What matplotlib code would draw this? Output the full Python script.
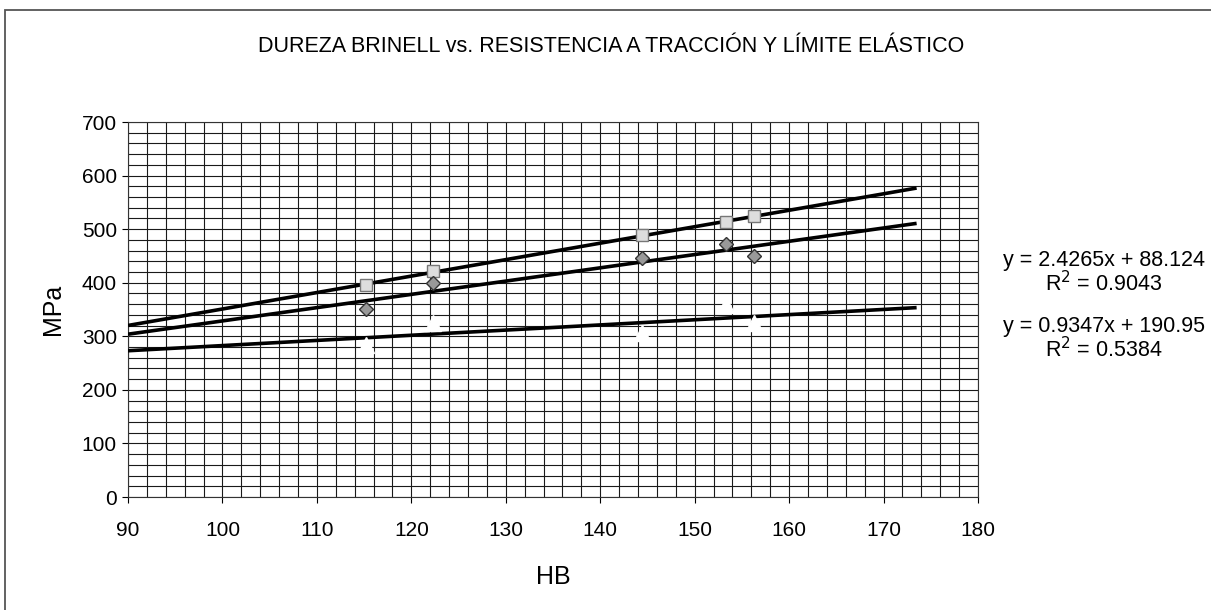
import matplotlib.pyplot as plt
import numpy as np
from matplotlib.patches import Rectangle
from matplotlib.ticker import MultipleLocator

plt.rcParams['font.family'] = ['Liberation Sans', 'DejaVu Sans']

# dureza Brinell de las probetas
hb = np.array([115.2, 122.3, 144.4, 153.3, 156.3])

# resistencia a traccion, limite elastico y tercera serie (MPa)
traccion = np.array([396, 421, 489, 513, 524])
limite = np.array([351, 399, 446, 472, 450])
tercera = np.array([284, 325, 306, 358, 325])

ecuaciones = [
    "y = 2.4265x + 88.124\nR$^2$ = 0.9043",
    "y = 0.9347x + 190.95\nR$^2$ = 0.5384",
]

fig = plt.figure(figsize=(12.11, 6.10), dpi=100)
ax = fig.add_axes([0.1057, 0.1852, 0.7019, 0.6148])

# marco exterior del grafico
fig.patches.append(Rectangle((5 / 1211, -0.1), 1.2, 1 - 10 / 610 + 0.1,
                             transform=fig.transFigure, fill=False,
                             edgecolor='#555555', lw=1.3))

x_fit = np.array([90, 173.5])
for serie in (traccion, limite, tercera):
    m, b = np.polyfit(hb, serie, 1)
    ax.plot(x_fit, m * x_fit + b, color='black', lw=2.6, zorder=3,
            solid_capstyle='butt')

ax.plot(hb, tercera, linestyle='none', marker='^', ms=11, color='white',
        mec='white', zorder=4)
ax.plot(hb, traccion, linestyle='none', marker='s', ms=8, mfc='#dddddd',
        mec='#777777', mew=1, zorder=4)
ax.plot(hb, limite, linestyle='none', marker='D', ms=7, mfc='#999999',
        mec='#333333', mew=1, zorder=4)

ax.set_xlim(90, 180)
ax.set_ylim(0, 700)
ax.xaxis.set_major_locator(MultipleLocator(10))
ax.xaxis.set_minor_locator(MultipleLocator(2))
ax.yaxis.set_major_locator(MultipleLocator(100))
ax.yaxis.set_minor_locator(MultipleLocator(20))
ax.grid(which='both', color='#1a1a1a', lw=0.8)
ax.set_axisbelow(True)
ax.tick_params(which='major', direction='out', length=4, width=0.8,
               labelsize=15, pad=4)
ax.tick_params(axis='x', pad=13)
ax.tick_params(which='minor', length=0)
for s in ax.spines.values():
    s.set_color('#333333')
    s.set_linewidth(0.8)

ax.set_xlabel("HB", fontsize=18, labelpad=18)
ax.set_ylabel("MPa", fontsize=18, labelpad=12)

fig.text(0.5046, 0.923, "DUREZA BRINELL vs. RESISTENCIA A TRACCIÓN Y LÍMITE ELÁSTICO",
         fontsize=15.5, ha='center', va='center')

for eq, y in zip(ecuaciones, [0.5516, 0.4434]):
    fig.text(1003 / 1211, y, eq, fontsize=15.5, ha='left', va='center',
             multialignment='center', linespacing=1.0)

fig.savefig("out.png", dpi=100)
